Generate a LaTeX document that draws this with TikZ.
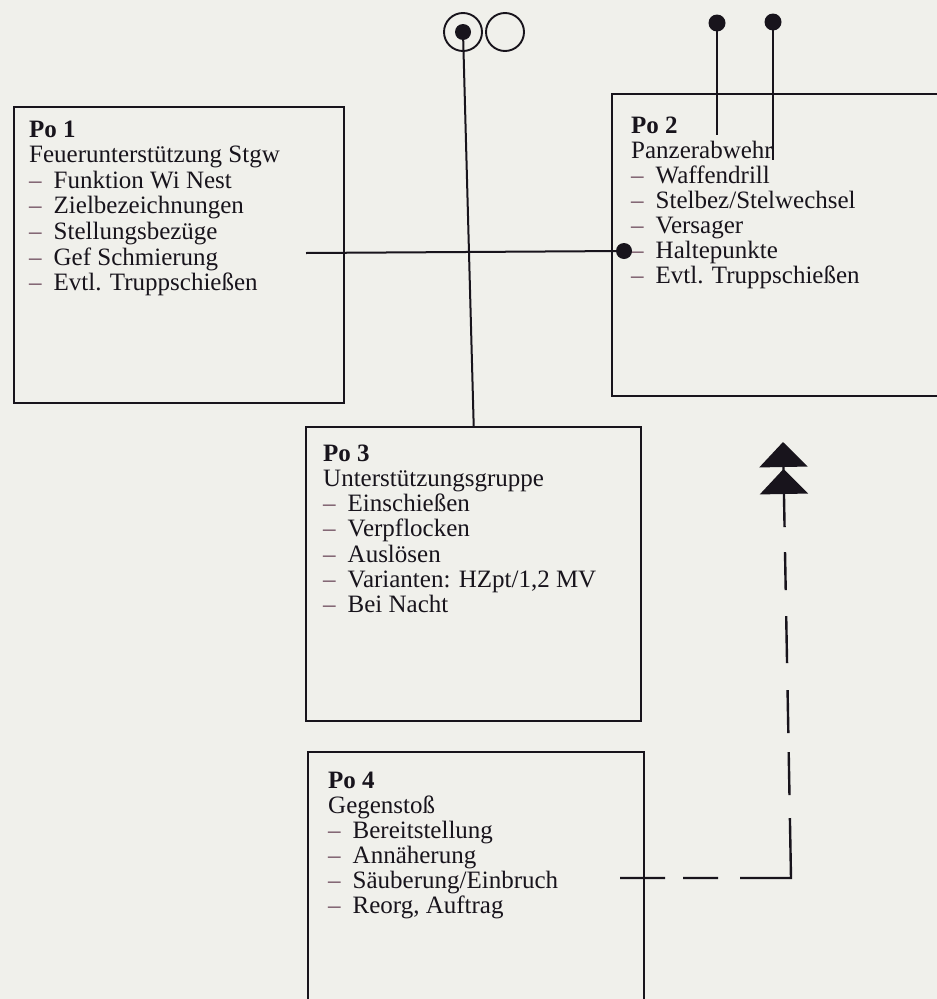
\documentclass[tikz,border=0pt]{standalone}
\usepackage{fontspec}
\setmainfont{Liberation Serif}
\usetikzlibrary{arrows.meta}
\definecolor{paper}{RGB}{240,240,235}
\definecolor{ink}{RGB}{24,20,28}
\definecolor{dashink}{RGB}{105,70,88}
\newcommand{\itm}[1]{\makebox[24.5pt][l]{\textcolor{dashink}{–}}#1}
\begin{document}
\begin{tikzpicture}[x=1pt,y=-1pt,
  box/.style={draw=ink, line width=2.4pt, rectangle, inner sep=0pt, anchor=north west},
  conn/.style={draw=ink, line width=2pt},
  blob/.style={circle, fill=ink, inner sep=0pt, minimum size=#1},
  ring/.style={circle, draw=ink, line width=1.9pt, inner sep=0pt, minimum size=38pt},
  txt/.style={anchor=base west, inner sep=0pt, text=ink, font=\fontsize{25}{#1}\selectfont},
  txt/.default=25.3]
\fill[paper] (0,0) rectangle (937,999);
\useasboundingbox (0,0) rectangle (937,999);
\clip (0,0) rectangle (937,999);

% boxes
\node[box, minimum width=330pt, minimum height=296pt] (p1) at (13,106) {};
\node[box, minimum width=400pt, minimum height=302pt] (p2) at (611,93) {};
\node[box, minimum width=335pt, minimum height=294pt] (p3) at (305,426) {};
\node[box, minimum width=336pt, minimum height=300pt] (p4) at (307,751) {};

% texts
\node[txt=25.6] (t1) at (29,137) {\begin{tabular}[t]{@{}l@{}}
\textbf{Po 1}\\
Feuerunterstützung Stgw\\
\itm{Funktion Wi Nest}\\
\itm{Zielbezeichnungen}\\
\itm{Stellungsbezüge}\\
\itm{Gef Schmierung}\\
\itm{Evtl. Truppschießen}
\end{tabular}};
\node[txt=25] (t2) at (631,133) {\begin{tabular}[t]{@{}l@{}}
\textbf{Po 2}\\
Panzerabwehr\\
\itm{Waffendrill}\\
\itm{Stelbez/Stelwechsel}\\
\itm{Versager}\\
\itm{Haltepunkte}\\
\itm{Evtl. Truppschießen}
\end{tabular}};
\node[txt=25.3] (t3) at (323,461) {\begin{tabular}[t]{@{}l@{}}
\textbf{Po 3}\\
Unterstützungsgruppe\\
\itm{Einschießen}\\
\itm{Verpflocken}\\
\itm{Auslösen}\\
\itm{Varianten: HZpt/1,2 MV}\\
\itm{Bei Nacht}
\end{tabular}};
\node[txt=25] (t4) at (328,788) {\begin{tabular}[t]{@{}l@{}}
\textbf{Po 4}\\
Gegenstoß\\
\itm{Bereitstellung}\\
\itm{Annäherung}\\
\itm{Säuberung/Einbruch}\\
\itm{Reorg, Auftrag}
\end{tabular}};

% top rings
\node[ring] (c1) at (463,32) {};
\node[ring] (c2) at (505,32) {};
\node[blob=16pt] (cd) at (463,32) {};
\draw[conn] (cd.center) -- (p3.north);

% horizontal link Po 1 -> Po 2
\coordinate (h0) at (306,253);
\node[blob=16pt] (hd) at (624,251) {};
\draw[conn] (h0) -- (hd.center);

% pins on Po 2
\node[blob=17pt] (pa) at (717,23) {};
\node[blob=17pt] (pb) at (773,22) {};
\coordinate (pae) at (717,135);
\coordinate (pbe) at (773,160);
\draw[conn] (pa.center) -- (pae);
\draw[conn] (pb.center) -- (pbe);

% dashed arrow from Po 4 to Po 2
\coordinate (s4) at (620,878);
\coordinate (cor) at (791,878);
\coordinate (ah) at (783,442);
\draw[conn, line width=2.4pt, line cap=butt,
  dash pattern=on 45pt off 18pt on 35pt off 22pt on 111pt off 23pt on 43pt off 19pt on 43pt off 27pt on 47pt off 26pt on 38pt off 25pt on 60pt off 10pt,
  -{Triangle[width=48pt,length=25pt,sep=2pt]Triangle[width=48pt,length=25pt]}]
  (s4) -- (cor) -- (ah);
\end{tikzpicture}
\end{document}
